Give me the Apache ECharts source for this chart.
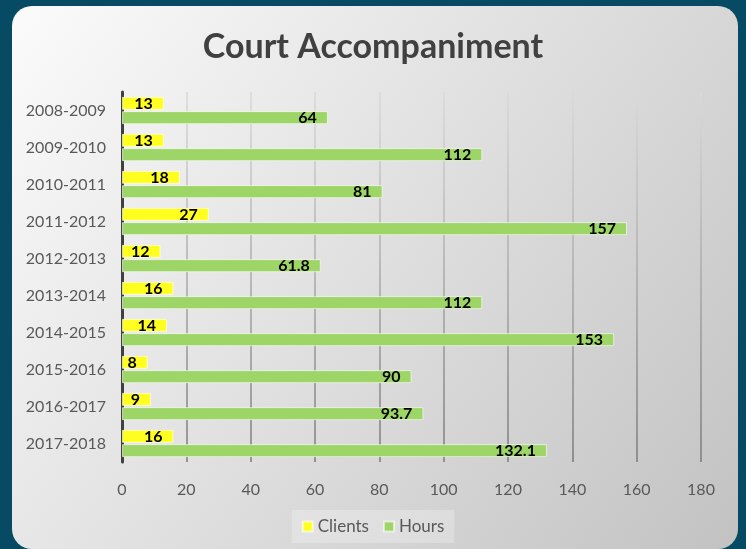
<!DOCTYPE html>
<html>
<head>
<meta charset="utf-8">
<script src="https://cdn.jsdelivr.net/npm/echarts@6/dist/echarts.min.js"></script>
<style>
    html, body { margin: 0; padding: 0; background: #074a64; }
    #chart { width: 746px; height: 549px; }
</style>
</head>
<body>
<div id="chart"></div>
<script>
// data
const years = ['2008-2009', '2009-2010', '2010-2011', '2011-2012', '2012-2013',
    '2013-2014', '2014-2015', '2015-2016', '2016-2017', '2017-2018'];
const clients = [13, 13, 18, 27, 12, 16, 14, 8, 9, 16];
const hours = [64, 112, 81, 157, 61.8, 112, 153, 90, 93.7, 132.1];

const font = 'Lato, "Open Sans", sans-serif';

let chart = echarts.init(document.getElementById('chart'));

let barLabel = {
    show: true,
    position: 'insideRight',
    distance: 11,
    color: '#000',
    fontWeight: 'bold',
    fontSize: 16,
    fontFamily: font
};

let option = {
    backgroundColor: '#074a64',
    animation: false,
    graphic: {
        elements: [{
            type: 'rect',
            z: -100,
            shape: { x: 12, y: 6, width: 726, height: 543, r: 20 },
            style: {
                fill: new echarts.graphic.LinearGradient(0, 0, 1, 1, [
                    { offset: 0, color: '#fbfbfb' },
                    { offset: 1, color: '#c2c2c2' }
                ])
            }
        }]
    },
    title: {
        text: 'Court Accompaniment',
        left: 'center',
        top: 25,
        textStyle: {
            color: '#404040',
            fontSize: 34,
            fontWeight: 'bold',
            fontFamily: font
        }
    },
    legend: {
        bottom: 6,
        left: 'center',
        itemWidth: 10,
        itemHeight: 10,
        itemGap: 14,
        padding: [8, 10],
        backgroundColor: 'rgba(255,255,255,0.25)',
        icon: 'rect',
        textStyle: { color: '#595959', fontSize: 17, fontFamily: font },
        data: ['Clients', 'Hours']
    },
    grid: {
        left: 122,
        right: 45,
        top: 92,
        bottom: 87
    },
    xAxis: {
        type: 'value',
        min: 0,
        max: 180,
        interval: 20,
        axisLine: { show: false },
        axisTick: { show: false },
        axisLabel: { color: '#595959', fontSize: 16, margin: 20, fontFamily: font },
        splitLine: {
            lineStyle: {
                width: 1.5,
                color: new echarts.graphic.LinearGradient(0, 0, 0, 1, [
                    { offset: 0, color: '#dadada' },
                    { offset: 1, color: '#7a7a7a' }
                ])
            }
        }
    },
    yAxis: {
        type: 'category',
        inverse: true,
        data: years,
        axisLine: { show: true, lineStyle: { color: '#404040', width: 3 } },
        axisTick: { show: false },
        axisLabel: { color: '#595959', fontSize: 16, margin: 16, fontFamily: font }
    },
    series: [
        {
            name: 'Clients',
            type: 'bar',
            data: clients,
            barWidth: 13,
            barGap: '10%',
            itemStyle: { color: '#ffff1f', borderColor: 'rgba(255,255,255,0.6)', borderWidth: 1 },
            label: barLabel
        },
        {
            name: 'Hours',
            type: 'bar',
            data: hours,
            barWidth: 13,
            itemStyle: { color: '#9dd567', borderColor: 'rgba(255,255,255,0.6)', borderWidth: 1 },
            label: barLabel
        }
    ]
};

chart.setOption(option);
</script>
</body>
</html>
